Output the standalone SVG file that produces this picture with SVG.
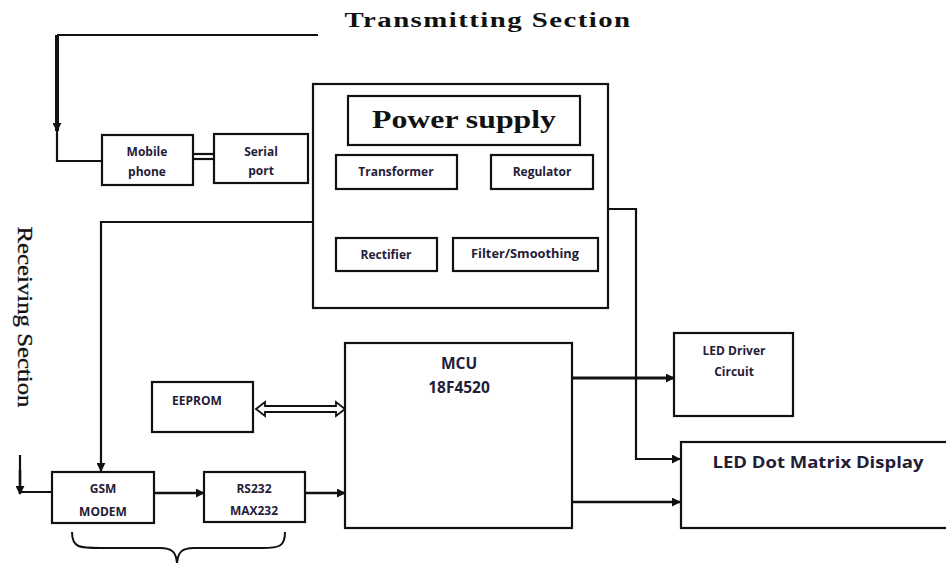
<svg xmlns="http://www.w3.org/2000/svg" width="946" height="563" viewBox="0 0 946 563">
<defs>
<style>
.box{fill:#fff;stroke:#111;stroke-width:2.2}
.t{font-family:"Open Sans","Liberation Sans",sans-serif;font-weight:bold;font-size:12px;fill:#1f2038;text-anchor:middle}
.big{font-size:15.5px}
.ln{fill:none;stroke:#111;stroke-width:2.2}
.sr{font-family:"Liberation Serif","DejaVu Serif",serif;fill:#111}
</style>
<marker id="ah" viewBox="0 0 10 10" refX="9" refY="5" markerWidth="9" markerHeight="9" markerUnits="userSpaceOnUse" orient="auto">
<path d="M0,0 L10,5 L0,10 z" fill="#111"/>
</marker>
</defs>
<rect width="946" height="563" fill="#fff"/>

<text class="sr" x="488" y="27" font-size="20" font-weight="bold" text-anchor="middle" textLength="287" lengthAdjust="spacingAndGlyphs" letter-spacing="1">Transmitting Section</text>
<text class="sr" transform="translate(18,317) rotate(90)" font-size="22" text-anchor="middle" textLength="181" lengthAdjust="spacingAndGlyphs" stroke="#111" stroke-width="0.3">Receiving Section</text>

<g id="connectors">
<polyline class="ln" points="318,35 57,35"/>
<line x1="57" y1="35" x2="57" y2="131" stroke="#111" stroke-width="4" marker-end="url(#ah)"/>
<polyline class="ln" points="57,128 57,161 102,161"/>
<line x1="193" y1="154" x2="214" y2="154" stroke="#111" stroke-width="2.2"/>
<line x1="193" y1="159" x2="214" y2="159" stroke="#111" stroke-width="2.2"/>
<polyline class="ln" points="313,222 101,222 101,471" marker-end="url(#ah)"/>
<polyline class="ln" points="608,209 636,209 636,459 680,459" stroke-width="3" marker-end="url(#ah)"/>
<polyline class="ln" points="20,455 20,492 52,492"/>
<line x1="20" y1="470" x2="20" y2="494" stroke="#111" stroke-width="2.5" marker-end="url(#ah)"/>
<line x1="154" y1="493" x2="204" y2="493" stroke="#111" stroke-width="2.5" marker-end="url(#ah)"/>
<line x1="305" y1="493" x2="345" y2="493" stroke="#111" stroke-width="2.5" marker-end="url(#ah)"/>
<polygon points="256,409 265,402 265,406 336,406 336,402 345,409 336,416 336,412 265,412 265,416" fill="#fff" stroke="#111" stroke-width="1.8"/>
<line x1="572" y1="378" x2="674" y2="378" stroke="#111" stroke-width="3" marker-end="url(#ah)"/>
<line x1="572" y1="502" x2="680" y2="502" stroke="#111" stroke-width="2.5" marker-end="url(#ah)"/>
<path d="M72,532 C72,548 80,548 100,548 L160,548 C172,548 176,552 177,563 C178,552 182,548 194,548 L262,548 C280,548 285,546 285,532" fill="none" stroke="#111" stroke-width="2"/>
</g>

<g id="mobile"><rect class="box" x="102" y="135" width="91" height="50"/><text class="t" x="147" y="156">Mobile</text><text class="t" x="147" y="176">phone</text></g>
<g id="serial"><rect class="box" x="214" y="134" width="94" height="49"/><text class="t" x="261" y="156">Serial</text><text class="t" x="261" y="175">port</text></g>

<g id="power">
<rect class="box" x="313" y="84" width="295" height="224"/>
<rect class="box" x="348" y="96" width="232" height="49"/>
<text class="sr" x="464" y="128" font-size="25" font-weight="bold" text-anchor="middle" textLength="184" lengthAdjust="spacingAndGlyphs">Power supply</text>
</g>
<g id="transformer"><rect class="box" x="336" y="155" width="121" height="34"/><text class="t" x="396" y="176">Transformer</text></g>
<g id="regulator"><rect class="box" x="491" y="155" width="102" height="34"/><text class="t" x="542" y="176">Regulator</text></g>
<g id="rectifier"><rect class="box" x="336" y="238" width="101" height="33"/><text class="t" x="386" y="259">Rectifier</text></g>
<g id="filter"><rect class="box" x="453" y="238" width="145" height="33"/><text class="t" x="525" y="258" textLength="108" lengthAdjust="spacingAndGlyphs">Filter/Smoothing</text></g>

<g id="gsm"><rect class="box" x="52" y="472" width="102" height="51"/><text class="t" x="103" y="493">GSM</text><text class="t" x="103" y="516">MODEM</text></g>
<g id="rs232"><rect class="box" x="204" y="472" width="101" height="50"/><text class="t" x="254" y="493">RS232</text><text class="t" x="254" y="515">MAX232</text></g>
<g id="eeprom"><rect class="box" x="152" y="382" width="101" height="50"/><text class="t" x="197" y="405">EEPROM</text></g>
<g id="mcu"><rect class="box" x="345" y="343" width="227" height="185"/><text class="t big" x="459" y="369">MCU</text><text class="t big" x="459" y="393">18F4520</text></g>
<g id="leddriver"><rect class="box" x="674" y="333" width="119" height="83"/><text class="t" x="734" y="355">LED Driver</text><text class="t" x="734" y="376">Circuit</text></g>
<g id="ledmatrix"><rect class="box" x="681" y="442" width="270" height="86"/><text class="t big" x="818" y="468" textLength="211" lengthAdjust="spacingAndGlyphs">LED Dot Matrix Display</text></g>
</svg>
